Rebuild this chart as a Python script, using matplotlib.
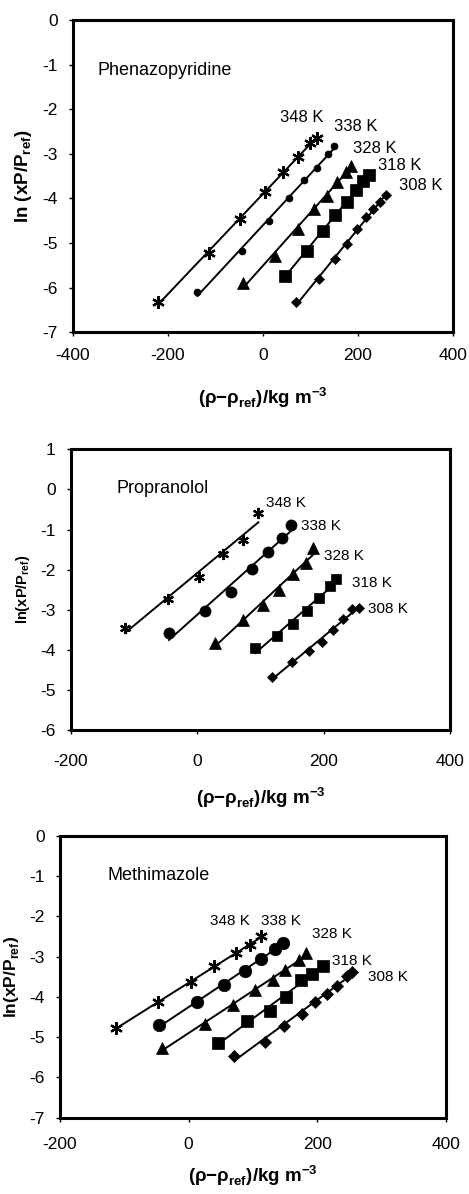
#!/usr/bin/env python3

import matplotlib
matplotlib.use("Agg")
import matplotlib.pyplot as plt
import numpy as np

plt.rcParams["font.family"] = ["Liberation Sans", "DejaVu Sans"]
plt.rcParams["mathtext.fontset"] = "custom"
plt.rcParams["mathtext.rm"] = "Liberation Sans"
plt.rcParams["mathtext.bf"] = "Liberation Sans:bold"
plt.rcParams["axes.unicode_minus"] = False

temps = ["348 K", "338 K", "328 K", "318 K", "308 K"]

# Phenazopyridine
phen_x = [
    [-220.9, -112.7, -48.1, 4.6, 43.2, 74.8, 99.4, 113.5],
    [-138.0, -43.2, 13.7, 55.9, 87.5, 114.2, 136.6, 150.7],
    [-41.1, 26.4, 73.4, 107.1, 134.5, 156.3, 174.6, 185.8],
    [46.0, 93.8, 126.1, 152.8, 176.7, 195.6, 211.8, 223.0],
    [70.6, 119.1, 151.4, 178.1, 199.2, 217.4, 232.9, 246.9, 258.9],
]
phen_y = [
    [-6.33, -5.23, -4.45, -3.86, -3.40, -3.06, -2.75, -2.64],
    [-6.10, -5.17, -4.51, -3.98, -3.59, -3.31, -3.00, -2.82],
    [-5.90, -5.29, -4.69, -4.24, -3.94, -3.63, -3.40, -3.27],
    [-5.74, -5.17, -4.72, -4.37, -4.08, -3.80, -3.60, -3.47],
    [-6.33, -5.80, -5.35, -5.01, -4.69, -4.42, -4.24, -4.08, -3.92],
]

# Propranolol
prop_x = [
    [-114.5, -47.0, 2.6, 40.1, 72.8, 96.6],
    [-44.9, 12.1, 53.3, 87.1, 111.3, 134.6, 148.3],
    [28.0, 71.8, 103.4, 129.8, 152.0, 171.5, 183.6],
    [91.8, 125.6, 152.0, 174.1, 192.6, 210.0, 219.5],
    [117.7, 149.9, 176.2, 196.8, 215.3, 231.1, 245.4, 255.4],
]
prop_y = [
    [-3.46, -2.74, -2.19, -1.62, -1.25, -0.58],
    [-3.59, -3.02, -2.56, -1.99, -1.55, -1.20, -0.89],
    [-3.84, -3.26, -2.88, -2.51, -2.12, -1.84, -1.47],
    [-3.96, -3.66, -3.36, -3.04, -2.72, -2.40, -2.24],
    [-4.69, -4.30, -4.03, -3.80, -3.51, -3.24, -2.98, -2.95],
]

# Methimazole
meth_x = [
    [-113.5, -47.2, 3.1, 39.9, 73.6, 95.3, 111.9],
    [-46.1, 12.4, 55.4, 87.0, 111.9, 133.7, 147.1],
    [-40.9, 24.9, 69.4, 103.6, 130.5, 149.7, 171.0, 182.4],
    [46.1, 90.1, 126.4, 150.8, 174.1, 191.7, 209.3],
    [71.0, 118.6, 148.7, 175.6, 196.3, 214.5, 230.0, 246.6, 253.3],
]
meth_y = [
    [-4.78, -4.13, -3.64, -3.24, -2.92, -2.72, -2.49],
    [-4.71, -4.14, -3.70, -3.35, -3.06, -2.81, -2.67],
    [-5.26, -4.68, -4.21, -3.84, -3.57, -3.33, -3.09, -2.92],
    [-5.15, -4.59, -4.35, -4.01, -3.58, -3.44, -3.24],
    [-5.46, -5.11, -4.72, -4.43, -4.13, -3.94, -3.73, -3.48, -3.38],
]

markers = [(6, 2, 0), "o", "^", "s", "D"]


def draw_panel(ax, xs, ys, name, name_pos, label_pos, xlim, xticks, ylim,
               ylabel, ylabel_size, sizes, label_size, xpad, xlabelpad):
    for i in range(5):
        x = np.array(xs[i])
        y = np.array(ys[i])
        k, b = np.polyfit(x, y, 1)
        xx = np.array([x.min(), x.max()])
        ax.plot(xx, k * xx + b, color="black", lw=1.4)
        ax.plot(x, y, linestyle="none", marker=markers[i], color="black",
                markersize=sizes[i], markeredgewidth=1.6 if i == 0 else 0.5)
        ax.text(label_pos[i][0], label_pos[i][1], temps[i], fontsize=label_size,
                ha="left", va="center")
    ax.text(name_pos[0], name_pos[1], name, fontsize=13, ha="left", va="center")
    ax.set_xlim(xlim)
    ax.set_ylim(ylim)
    ax.set_xticks(xticks)
    ax.set_yticks(np.arange(ylim[0], ylim[1] + 1))
    for s in ax.spines.values():
        s.set_linewidth(2.2)
    ax.tick_params(direction="out", length=3, width=1, labelsize=12.5)
    ax.tick_params(axis="x", pad=xpad)
    ax.tick_params(axis="y", pad=8)
    ax.set_ylabel(ylabel, fontsize=ylabel_size, fontweight="bold", labelpad=6)
    ax.set_xlabel(r"(ρ−ρ$_{\mathbf{ref}}$)/kg m$^{\mathbf{-3}}$", fontsize=13.5,
                  fontweight="bold", labelpad=xlabelpad)


def main():
    fig = plt.figure(figsize=(4.69, 11.94), dpi=100)

    ax1 = fig.add_axes([0.1557, 0.7217, 0.8095, 0.2615])
    draw_panel(ax1, phen_x, phen_y, "Phenazopyridine", (-348, -1.12),
               [(36, -2.18), (150, -2.39), (190, -2.88), (242, -3.25), (287, -3.72)],
               (-400, 400), [-400, -200, 0, 200, 400], (-7, 0),
               r"ln (xP/P$_{\mathbf{ref}}$)", 13.5, [9, 5, 9, 8, 5.5], 12, 8, 16)

    ax2 = fig.add_axes([0.1514, 0.3886, 0.808, 0.2351])
    draw_panel(ax2, prop_x, prop_y, "Propranolol", (-127.7, 0.02),
               [(108, -0.35), (164, -0.91), (201, -1.65), (245, -2.34), (270, -2.97)],
               (-200, 400), [-200, 0, 200, 400], (-6, 1),
               r"ln(xP/P$_{\mathbf{ref}}$)", 10.5, [8, 8, 9, 7.5, 5], 11, 14, 12)

    ax3 = fig.add_axes([0.1279, 0.0639, 0.823, 0.2362])
    draw_panel(ax3, meth_x, meth_y, "Methimazole", (-126.4, -1.0),
               [(33, -2.13), (112, -2.13), (192, -2.45), (223, -3.11), (279, -3.52)],
               (-200, 400), [-200, 0, 200, 400], (-7, 0),
               r"ln(xP/P$_{\mathbf{ref}}$)", 12.5, [9, 9, 8.5, 8, 6], 11, 11, 8)

    plt.savefig("out.png", dpi=100)


if __name__ == "__main__":
    main()
